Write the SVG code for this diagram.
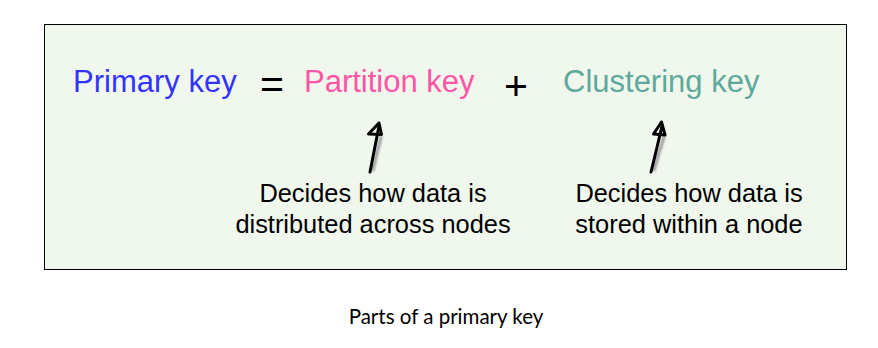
<svg xmlns="http://www.w3.org/2000/svg" width="878" height="348" viewBox="0 0 878 348">
  <defs>
    <filter id="soft" x="-50%" y="-50%" width="200%" height="200%">
      <feGaussianBlur stdDeviation="0.8"/>
    </filter>
  </defs>
  <style>
    .key { font-family: "Liberation Sans", Arial, sans-serif; font-size: 31px; }
    .op { font-family: "Liberation Sans", Arial, sans-serif; font-size: 41px; fill: #000; }
    .note { font-family: "Liberation Sans", Arial, sans-serif; font-size: 25.4px; fill: #000; text-anchor: middle; }
    .cap { font-family: Lato, "Noto Sans", sans-serif; font-size: 20.5px; fill: #000; text-anchor: middle; }
    .ink { fill: none; stroke: #000; stroke-width: 3; stroke-linecap: round; stroke-linejoin: round; }
    .shade { fill: none; stroke: #9a9a9a; stroke-width: 3; stroke-linecap: round; filter: url(#soft); }
  </style>

  <!-- panel -->
  <rect x="44.5" y="24.5" width="802" height="245" fill="#f0f7ec" stroke="#000" stroke-width="1"/>

  <!-- equation terms -->
  <g id="primary-key">
    <text class="key" x="73" y="92" fill="#3333ff">Primary key</text>
  </g>
  <g id="equals">
    <text class="op" x="260" y="98">=</text>
  </g>
  <g id="partition-key">
    <text class="key" x="304" y="92" fill="#ff55a6">Partition key</text>
  </g>
  <g id="plus">
    <text class="op" x="504" y="100">+</text>
  </g>
  <g id="clustering-key">
    <text class="key" x="563" y="92" fill="#5ea99b">Clustering key</text>
  </g>

  <!-- explanations -->
  <g id="partition-note">
    <text class="note" x="373" y="202">Decides how data is</text>
    <text class="note" x="373" y="233">distributed across nodes</text>
  </g>
  <g id="clustering-note">
    <text class="note" x="689" y="202">Decides how data is</text>
    <text class="note" x="689" y="233">stored within a node</text>
  </g>

  <!-- hand-drawn pointers -->
  <g id="connectors">
    <path class="shade" d="M381 137 Q377 152 373 170"/>
    <path class="ink" d="M370 172 Q374 152 379 126"/>
    <path class="ink" d="M379 123 L368.5 134 L381.5 134.5 Z"/>

    <path class="shade" d="M664 137 Q659 152 654 170"/>
    <path class="ink" d="M651 172 Q656 152 662 126"/>
    <path class="ink" d="M661.5 122 L653.5 134 L665 135 Z"/>
  </g>

  <!-- caption -->
  <text class="cap" x="446" y="324">Parts of a primary key</text>
</svg>
